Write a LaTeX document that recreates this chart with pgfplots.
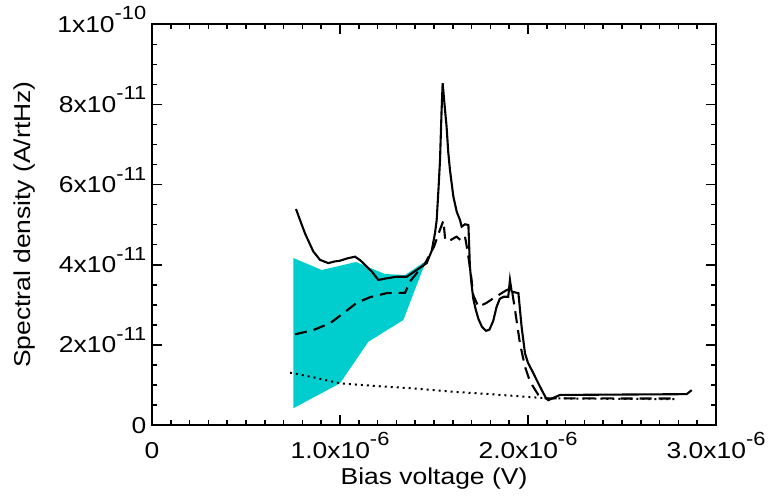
\documentclass[border=0pt]{standalone}
\usepackage{fontspec}
\setmainfont{Liberation Sans}[FakeStretch=1.15]
\usepackage{pgfplots}
\pgfplotsset{compat=1.18}
\definecolor{cy}{RGB}{0,206,206}
\newcommand{\lab}{\fontsize{23}{27}\selectfont}
\newcommand{\e}[1]{\raisebox{12.5pt}{\fontsize{19}{19}\selectfont #1}}
\begin{document}
\begin{tikzpicture}
\begin{axis}[name=ax,
  scale only axis, width=564pt, height=400.7pt,
  xmin=0, xmax=3, ymin=0, ymax=10,
  xtick={0,1,2,3}, minor x tick num=9,
  ytick={0,2,4,6,8,10}, minor y tick num=3,
  xticklabels={0,1.0x10\e{-6},2.0x10\e{-6},3.0x10\e{-6}},
  yticklabels={0,2x10\e{-11},4x10\e{-11},6x10\e{-11},8x10\e{-11},1x10\e{-10}},
  tick align=inside, major tick length=10pt, minor tick length=5pt,
  every tick/.style={black, line width=1.6pt},
  axis line style={line width=2pt},
  xticklabel style={font=\lab, anchor=base, inner sep=0pt, yshift=-33.3pt},
  yticklabel style={font=\lab, anchor=base east, inner sep=0pt, xshift=-5.5pt, yshift=-8pt},
  xlabel={Bias voltage (V)}, ylabel={Spectral density (A/rtHz)},
  every axis x label/.style={at={(axis description cs:0.5,-0.1496)}, anchor=base, font=\lab},
  every axis y label/.style={at={(axis description cs:-0.2252,0.5)}, rotate=90, anchor=center, font=\lab},
]
\addplot[fill=cy, draw=none] coordinates {
(0.7516,4.168) (0.9027,3.868) (1.085,4.068) (1.239,3.768) (1.346,3.743) (1.457,4.093)
(1.337,2.620) (1.151,2.079) (1.0,1.041) (0.7516,0.417)} -- cycle;
\addplot[black, line width=2pt, dash pattern=on 2pt off 4pt] coordinates {
(0.734,1.305) (0.85,1.2) (1.0,1.04) (1.2,0.97) (1.4,0.91) (1.6,0.83) (1.8,0.77) (2.0,0.70) (2.1,0.666) (2.4,0.655) (2.79,0.645)};
\addplot[black, line width=2.1pt, dash pattern=on 12pt off 7pt] coordinates {
(0.761,2.263) (0.858,2.37) (0.947,2.54) (1.018,2.79) (1.089,3.05) (1.16,3.19) (1.248,3.29) (1.346,3.30)
(1.372,3.58) (1.408,3.79) (1.452,4.03) (1.50,4.45) (1.53,4.85) (1.55,5.10) (1.56,4.6) (1.59,4.62)
(1.62,4.70) (1.645,4.60) (1.665,4.70) (1.68,4.3) (1.70,3.62) (1.709,3.24) (1.736,2.95) (1.78,3.05)
(1.815,3.16) (1.887,3.37) (1.913,3.41) (1.931,2.87) (1.957,2.04) (1.984,1.455) (2.011,1.08)
(2.055,0.75) (2.082,0.666) (2.79,0.66)};
\addplot[black, line width=2.1pt] coordinates {
(0.766,5.39) (0.787,5.12) (0.814,4.78) (0.858,4.33) (0.894,4.12) (0.938,4.04) (0.97,4.08) (1.0,4.10)
(1.04,4.16) (1.08,4.20) (1.105,4.12) (1.124,4.04) (1.169,3.83) (1.204,3.62) (1.248,3.66) (1.30,3.70)
(1.355,3.70) (1.408,3.87) (1.461,4.04) (1.488,4.35) (1.505,4.78) (1.514,5.1) (1.524,5.9) (1.532,6.61)
(1.540,7.8) (1.546,8.53) (1.556,8.0) (1.567,7.44) (1.576,6.8) (1.585,6.36) (1.603,5.70) (1.621,5.32)
(1.638,5.12) (1.647,4.95) (1.665,5.01) (1.683,4.99)
(1.691,3.95) (1.70,3.5) (1.709,3.15) (1.722,2.88) (1.736,2.65) (1.755,2.45) (1.777,2.35) (1.795,2.38)
(1.815,2.6) (1.833,2.95) (1.85,3.15) (1.87,3.20) (1.895,3.20)
(1.904,3.62) (1.913,3.33) (1.949,3.29) (1.966,2.45) (1.984,1.79) (2.0,1.55) (2.02,1.37) (2.064,0.956) (2.096,0.666)
(2.108,0.62) (2.17,0.75) (2.50,0.76) (2.844,0.77) (2.871,0.87)};
\end{axis}
\pgfresetboundingbox
\path[use as bounding box] ([shift={(-152pt,-73pt)}]ax.south west) rectangle ([shift={(56pt,24.3pt)}]ax.north east);
\end{tikzpicture}
\end{document}
